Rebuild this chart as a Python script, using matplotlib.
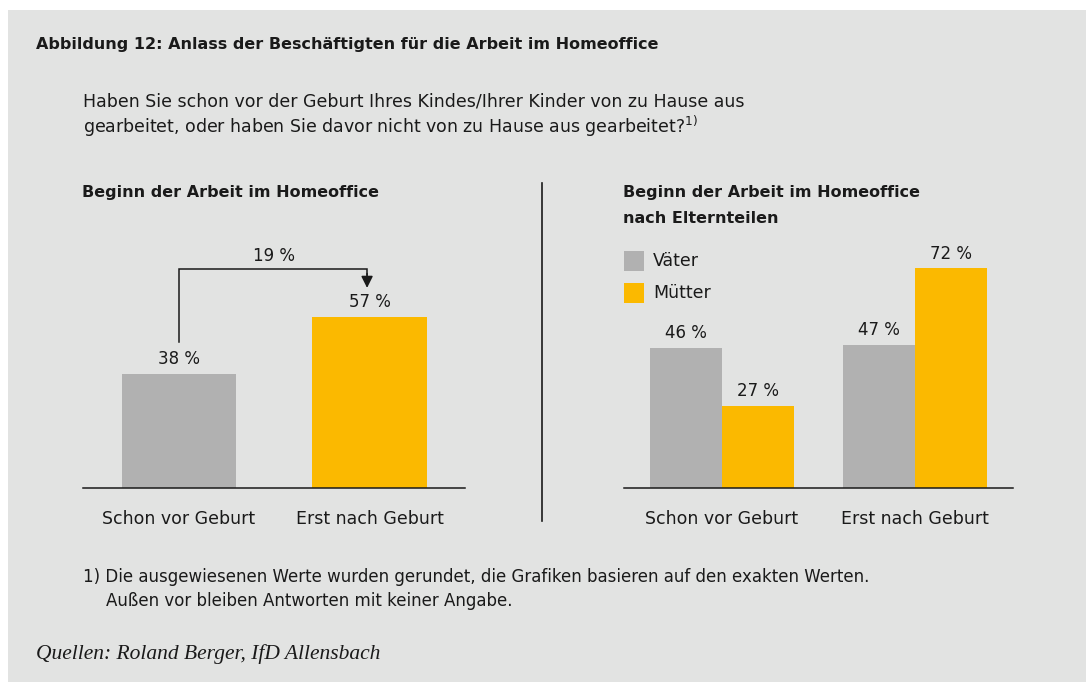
import matplotlib
matplotlib.use("Agg")
import matplotlib.pyplot as plt
from matplotlib.patches import Rectangle
import numpy as np

# data
categories = ["Schon vor Geburt", "Erst nach Geburt"]
total_values = [38, 57]
diff_label = "19 %"
series_names = ["Väter", "Mütter"]
vaeter_values = [46, 47]
muetter_values = [27, 72]

GRAY = "#b1b1b1"
ORANGE = "#fbb900"
BG = "#e2e3e2"
TXT = "#1a1a1a"

W, H = 1086, 682
plt.rcParams['font.family'] = ['DejaVu Sans']

fig = plt.figure(figsize=(W / 100, H / 100), dpi=100)
fig.patch.set_facecolor("white")


def fx(px):
    return px / W


def fy(py):
    return 1 - py / H


# grey panel
fig.patches.append(Rectangle((fx(8), 0), 1 - fx(8), fy(10), transform=fig.transFigure,
                             facecolor=BG, edgecolor="none", zorder=-5))

fig.text(fx(36), fy(44), "Abbildung 12: Anlass der Beschäftigten für die Arbeit im Homeoffice",
         fontsize=11.5, fontweight="bold", color=TXT, va="center")
fig.text(fx(83), fy(101), "Haben Sie schon vor der Geburt Ihres Kindes/Ihrer Kinder von zu Hause aus",
         fontsize=12.5, color=TXT, va="center")
fig.text(fx(83), fy(126), "gearbeitet, oder haben Sie davor nicht von zu Hause aus gearbeitet?$^{1)}$",
         fontsize=12.5, color=TXT, va="center")

fig.text(fx(82), fy(193), "Beginn der Arbeit im Homeoffice", fontsize=11.5, fontweight="bold",
         color=TXT, va="center")
fig.text(fx(623), fy(193), "Beginn der Arbeit im Homeoffice", fontsize=11.5, fontweight="bold",
         color=TXT, va="center")
fig.text(fx(623), fy(219), "nach Elternteilen", fontsize=11.5, fontweight="bold",
         color=TXT, va="center")

# divider
fig.add_artist(plt.Line2D([fx(541.5), fx(541.5)], [fy(183), fy(521)], transform=fig.transFigure,
                          color=TXT, lw=1.2))

# left chart
axL = fig.add_axes([fx(83), fy(488), fx(465) - fx(83), (488 - 188) / H])
x = np.arange(len(categories))
axL.bar(x, total_values, width=0.6, color=[GRAY, ORANGE], zorder=2)
axL.set_xlim(-0.504, 1.501)
axL.set_ylim(0, 100)
for xi, v in zip(x, total_values):
    axL.annotate(f"{v} %", (xi, v), xytext=(0, 4), textcoords="offset points",
                 ha="center", va="bottom", fontsize=12, color=TXT)
top = max(total_values) + 16
xa = x[1] - 0.013
axL.plot([x[0], x[0], xa, xa],
         [total_values[0] + 10.7, top, top, total_values[1] + 14],
         color=TXT, lw=1.1, solid_joinstyle="miter")
axL.annotate("", xy=(xa, total_values[1] + 9.7), xytext=(xa, total_values[1] + 14.5),
             arrowprops=dict(arrowstyle="-|>,head_length=0.7,head_width=0.35", color=TXT, lw=1.1,
                             shrinkA=0, shrinkB=0))
axL.text((x[0] + x[1]) / 2, top + 1.3, diff_label, ha="center", va="bottom", fontsize=12, color=TXT)

# right chart
axR = fig.add_axes([fx(624), fy(488), fx(1013) - fx(624), (488 - 183) / H])
bw = 0.373
axR.bar(x - bw / 2, vaeter_values, width=bw, color=GRAY, zorder=2)
axR.bar(x + bw / 2, muetter_values, width=bw, color=ORANGE, zorder=2)
axR.set_xlim(-0.508, 1.508)
axR.set_ylim(0, 100)
for xi, v in zip(x - bw / 2, vaeter_values):
    axR.annotate(f"{v} %", (xi, v), xytext=(0, 4), textcoords="offset points",
                 ha="center", va="bottom", fontsize=12, color=TXT)
for xi, v in zip(x + bw / 2, muetter_values):
    axR.annotate(f"{v} %", (xi, v), xytext=(0, 4), textcoords="offset points",
                 ha="center", va="bottom", fontsize=12, color=TXT)

for ax in (axL, axR):
    ax.set_facecolor("none")
    for s in ("top", "right", "left"):
        ax.spines[s].set_visible(False)
    ax.spines["bottom"].set_color(TXT)
    ax.spines["bottom"].set_linewidth(1.1)
    ax.set_yticks([])
    ax.set_xticks(x)
    ax.set_xticklabels(categories, fontsize=12.5, color=TXT)
    ax.tick_params(axis="x", length=0, pad=16)

# legend
for i, (name, col) in enumerate(zip(series_names, [GRAY, ORANGE])):
    yc = 261 + i * 31.5
    fig.patches.append(Rectangle((fx(624), fy(yc + 10)), fx(20), 20 / H, transform=fig.transFigure,
                                 facecolor=col, edgecolor="none"))
    fig.text(fx(653), fy(yc), name, fontsize=12.5, color=TXT, va="center")

fig.text(fx(83), fy(577), "1) Die ausgewiesenen Werte wurden gerundet, die Grafiken basieren auf den exakten Werten.",
         fontsize=12, color=TXT, va="center")
fig.text(fx(106), fy(601), "Außen vor bleiben Antworten mit keiner Angabe.",
         fontsize=12, color=TXT, va="center")
fig.text(fx(36), fy(654), "Quellen: Roland Berger, IfD Allensbach", fontsize=15.5, color=TXT,
         va="center", style="italic", family=["Liberation Serif", "DejaVu Serif"])

fig.savefig("out.png", dpi=100, facecolor=fig.get_facecolor())
